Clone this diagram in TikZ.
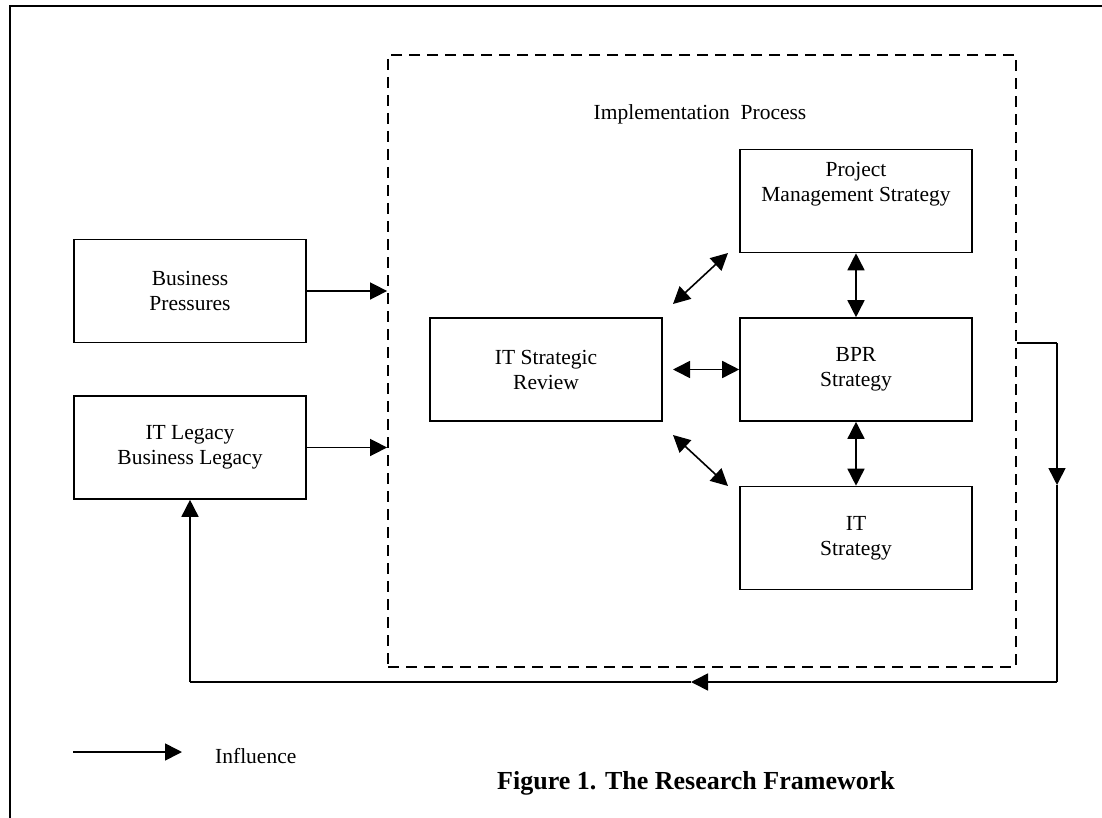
\documentclass[tikz,border=0pt]{standalone}
\usepackage{fontspec}
\setmainfont{Liberation Serif}
\usetikzlibrary{arrows.meta}
\tikzset{
  box/.style={draw, line width=1.6pt, minimum width=232pt, minimum height=103pt, align=center, inner sep=0pt, font=\fontsize{21.5}{25}\selectfont},
  lbl/.style={align=center, inner sep=0pt, font=\fontsize{21.5}{25}\selectfont},
  conn/.style={line width=1.6pt},
  tip/.style={-{Triangle[length=17pt,width=17pt]}},
  dtip/.style={{Triangle[length=17pt,width=17pt]}-{Triangle[length=17pt,width=17pt]}},
  frame/.style={line width=2.4pt},
  region/.style={draw, line width=1.8pt, dash pattern=on 11pt off 7pt}
}
\begin{document}
\begin{tikzpicture}[x=1pt,y=-1pt]
\useasboundingbox (0,0) rectangle (1102,818);
\draw[frame] (10,818) -- (10,6) -- (1102,6);

% implementation region
\node[region, minimum width=628pt, minimum height=612pt, inner sep=0pt] (impl) at (702,361) {};
\node[lbl] (impltxt) at (700,114) {Implementation\ \ Process};

% boxes
\node[box] (bp) at (190,291) {Business\\Pressures};
\node[box] (leg) at (190,447.5) {IT Legacy\\Business Legacy};
\node[box] (itsr) at (546,369.5) {IT Strategic\\Review};
\node[box] (pm) at (856,201) {};
\node[lbl] (pmtxt) at (856,184) {Project\\Management Strategy};
\node[box] (bpr) at (856,369.5) {BPR\\Strategy};
\node[box] (its) at (856,538) {IT\\Strategy};

% influence arrows into the process
\coordinate (bpin) at (impl.west |- bp.east);
\coordinate (legin) at (impl.west |- leg.east);
\draw[conn, tip] (bp.east) -- (bpin);
\draw[conn, tip] (leg.east) -- (legin);

% double arrows
\coordinate (d1a) at (673,304);
\coordinate (d1b) at (728,253);
\coordinate (d2a) at (673,435);
\coordinate (d2b) at (728,486);
\coordinate (hA) at (673,369.5);
\draw[conn, dtip] (d1a) -- (d1b);
\draw[conn, dtip] (d2a) -- (d2b);
\draw[conn, dtip] (hA) -- (bpr.west);
\draw[conn, dtip] (pm.south) -- (bpr.north);
\draw[conn, dtip] (bpr.south) -- (its.north);

% feedback loop
\coordinate (f0) at (impl.east |- 0,343);
\coordinate (f1) at (1057,343);
\coordinate (f2) at (1057,485);
\coordinate (f3) at (1057,682);
\coordinate (f4) at (691,682);
\coordinate (f5) at (leg.south |- f3);
\draw[conn] (f0) -- (f1);
\draw[conn, tip] (f1) -- (f2);
\draw[conn] (f2) -- (f3);
\draw[conn, tip] (f3) -- (f4);
\draw[conn] (f4) -- (f5);
\draw[conn, tip] (f5) -- (leg.south);

% legend
\coordinate (la) at (73,752);
\coordinate (lb) at (182,752);
\draw[conn, tip] (la) -- (lb);
\node[lbl, anchor=west] (infl) at (215,756) {Influence};

\node[inner sep=0pt, anchor=east, font=\fontsize{26}{30}\selectfont\bfseries] (cap) at (895,783) {Figure 1. The Research Framework};
\end{tikzpicture}
\end{document}
